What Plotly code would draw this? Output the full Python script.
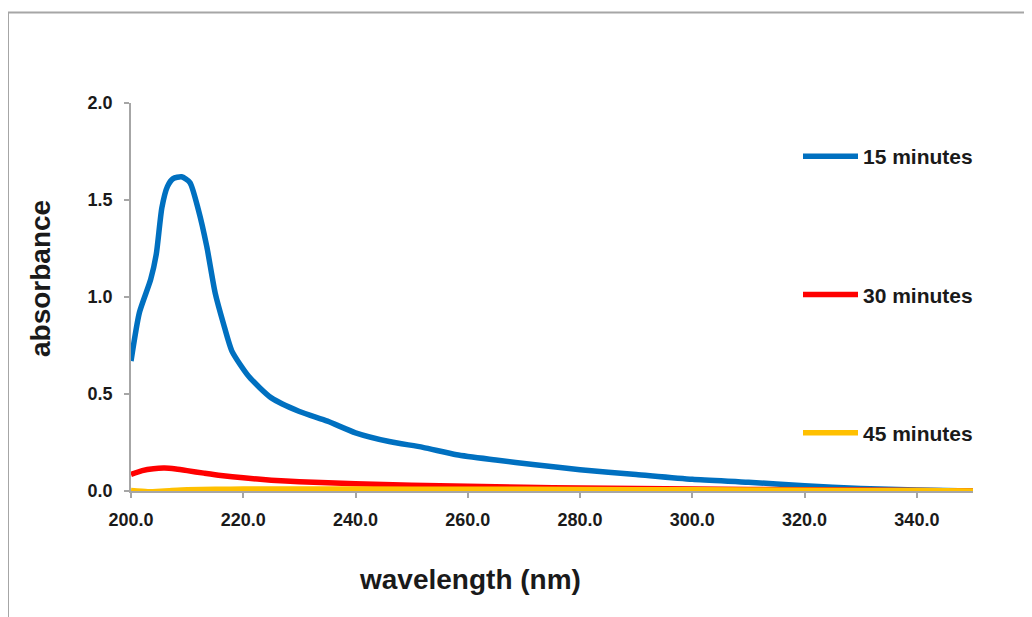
import plotly.graph_objects as go

# ---- data ----
wl_15 = [200, 201.5, 203.5, 204.5, 205.5, 206.5, 207.5, 209, 210.5, 212, 213.5, 215, 216.5, 218,
         221, 225, 230, 235, 240, 246, 252, 258, 265, 272, 280, 290, 300, 310, 320, 330, 340, 350]
abs_15 = [0.67, 0.92, 1.09, 1.22, 1.46, 1.57, 1.61, 1.62, 1.59, 1.45, 1.26, 1.02, 0.86, 0.72,
          0.59, 0.48, 0.41, 0.36, 0.30, 0.255, 0.225, 0.187, 0.16, 0.135, 0.11, 0.085, 0.06, 0.045,
          0.027, 0.013, 0.005, 0.0]

wl_30 = [200, 202, 204, 206, 208, 210, 213, 216, 220, 225, 230, 240, 250, 260, 270, 280, 300, 320, 340, 350]
abs_30 = [0.085, 0.105, 0.115, 0.118, 0.113, 0.105, 0.092, 0.08, 0.068, 0.056, 0.048, 0.037,
          0.030, 0.024, 0.019, 0.015, 0.01, 0.006, 0.003, 0.0]

wl_45 = [200, 203, 206, 210, 215, 220, 240, 260, 280, 300, 320, 340, 350]
abs_45 = [0.002, -0.004, 0.0, 0.006, 0.009, 0.01, 0.01, 0.009, 0.008, 0.006, 0.004, 0.002, 0.0]

series_names = ["15 minutes", "30 minutes", "45 minutes"]
series_colors = ["#0070C0", "#FF0000", "#FFC000"]

x_title = "wavelength (nm)"
y_title = "absorbance"

FONT = "Liberation Sans, Arial, sans-serif"
TXT = "#1a1a1a"

fig = go.Figure()
for i, (x, y) in enumerate([(wl_15, abs_15), (wl_30, abs_30), (wl_45, abs_45)]):
    fig.add_trace(go.Scatter(
        x=x, y=y, mode="lines", name=series_names[i], legendgroup=series_names[i],
        line=dict(color=series_colors[i], width=5.5, shape="spline", smoothing=0.6),
        cliponaxis=False,
    ))

# page body adds an 8px offset; figure is sized to the remaining window
L, T, PW, PH = 123, 95, 842, 388
axis_line = "#a6a6a6"
title_font = dict(family=FONT, size=28, color=TXT, weight="bold")
fig.update_layout(
    width=1024, height=609,
    margin=dict(l=L, r=1024 - L - PW, t=T, b=609 - T - PH),
    paper_bgcolor="white", plot_bgcolor="white",
    font=dict(family=FONT, color=TXT),
    showlegend=True,
    legend=dict(
        x=(798 - 131) / PW, xanchor="left",
        y=1 - 33 / PH, yanchor="top",
        traceorder="grouped", tracegroupgap=108,
        font=dict(family=FONT, size=21, color=TXT, weight="bold"),
        itemwidth=55, bgcolor="rgba(0,0,0,0)",
    ),
    xaxis=dict(
        range=[200, 350], tick0=200, dtick=20, tickformat=".1f",
        showgrid=False, zeroline=False,
        showline=True, linecolor=axis_line, linewidth=1.5,
        ticks="outside", ticklen=5, tickcolor=axis_line, tickwidth=1.5,
        ticklabelstandoff=7,
        tickfont=dict(family=FONT, size=18, color=TXT, weight="bold"),
    ),
    yaxis=dict(
        range=[0, 2], tick0=0, dtick=0.5, tickformat=".1f",
        showgrid=False, zeroline=False,
        showline=True, linecolor=axis_line, linewidth=1.5,
        ticks="outside", ticklen=5, tickcolor=axis_line, tickwidth=1.5,
        ticklabelstandoff=8,
        tickfont=dict(family=FONT, size=18, color=TXT, weight="bold"),
    ),
    annotations=[
        dict(text=x_title, xref="paper", yref="paper",
             x=(462 - L) / PW, y=(T + PH - 571) / PH,
             xanchor="center", yanchor="middle", showarrow=False, font=title_font),
        dict(text=y_title, xref="paper", yref="paper", textangle=-90,
             x=(32 - L) / PW, y=(T + PH - 271) / PH,
             xanchor="center", yanchor="middle", showarrow=False, font=title_font),
    ],
    shapes=[dict(
        type="rect", xref="paper", yref="paper",
        x0=(0 - L) / PW, x1=(1040 - L) / PW,
        y0=(T + PH - 640) / PH, y1=(T + PH - 4.5) / PH,
        line=dict(color="#a6a6a6", width=2), fillcolor="rgba(0,0,0,0)", layer="below",
    )],
)

fig.write_html("out.html")
